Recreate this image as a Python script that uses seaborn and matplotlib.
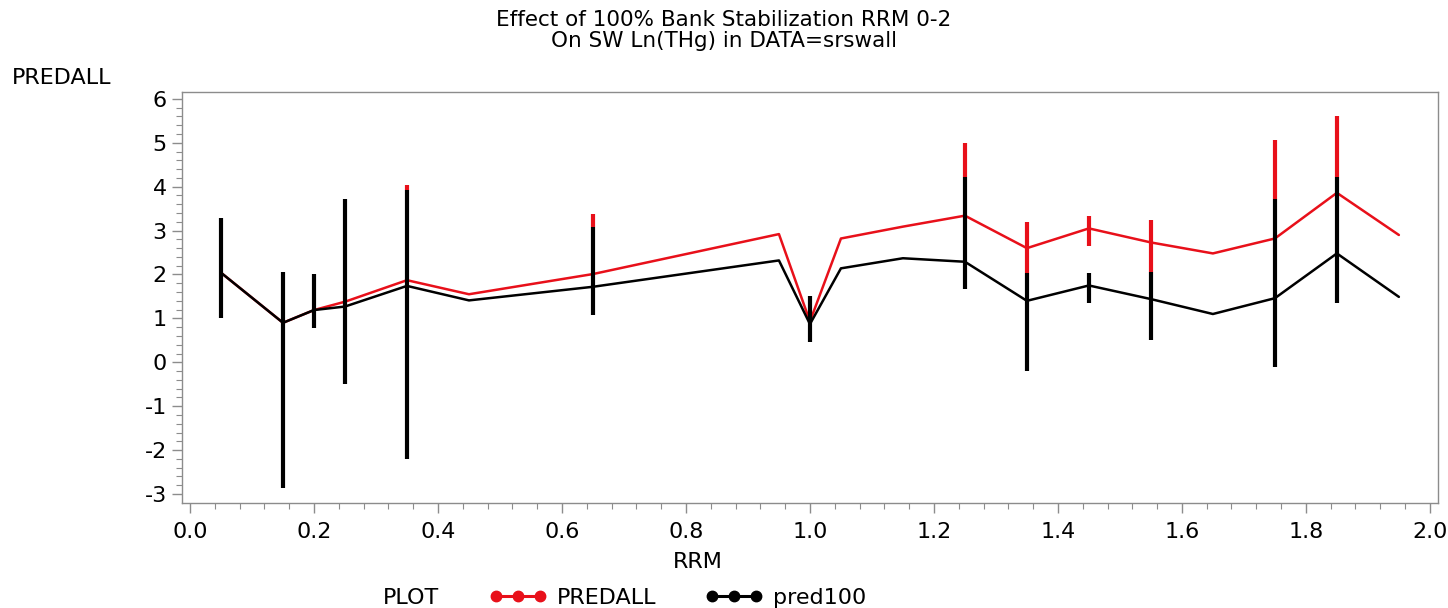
import numpy as np
import pandas as pd
import matplotlib
matplotlib.use("Agg")
import matplotlib.pyplot as plt
from matplotlib.lines import Line2D
from matplotlib.ticker import MultipleLocator, FormatStrFormatter
import seaborn as sns

# ---- data ----
rrm = [0.05, 0.15, 0.2, 0.25, 0.35, 0.45, 0.65, 0.95, 1.0, 1.05, 1.15,
       1.25, 1.35, 1.45, 1.55, 1.65, 1.75, 1.85, 1.95]
predall = [2.04, 0.90, 1.19, 1.38, 1.87, 1.55, 2.01, 2.92, 0.93, 2.82, 3.09,
           3.34, 2.60, 3.05, 2.73, 2.48, 2.82, 3.86, 2.90]
pred100 = [2.04, 0.90, 1.19, 1.27, 1.74, 1.41, 1.72, 2.32, 0.87, 2.14, 2.37,
           2.29, 1.40, 1.75, 1.44, 1.10, 1.46, 2.48, 1.49]

# hi-lo bars
red_bar_x = [0.35, 0.65, 1.25, 1.35, 1.45, 1.55, 1.75, 1.85]
red_bar_lo = [3.92, 3.09, 4.23, 2.03, 2.65, 2.05, 3.73, 4.23]
red_bar_hi = [4.04, 3.37, 4.99, 3.20, 3.33, 3.23, 5.06, 5.61]

blk_bar_x = [0.05, 0.15, 0.2, 0.25, 0.35, 0.65, 1.0, 1.25, 1.35, 1.45, 1.55, 1.75, 1.85]
blk_bar_lo = [1.00, -2.87, 0.77, -0.49, -2.20, 1.08, 0.47, 1.66, -0.19, 1.34, 0.51, -0.11, 1.34]
blk_bar_hi = [3.28, 2.05, 2.00, 3.72, 3.92, 3.09, 1.51, 4.23, 2.03, 2.03, 2.05, 3.73, 4.23]

series_names = ["PREDALL", "pred100"]
series_colors = ["#e8101a", "#000000"]

df = pd.DataFrame({
    "RRM": rrm * 2,
    "value": predall + pred100,
    "PLOT": [series_names[0]] * len(rrm) + [series_names[1]] * len(rrm),
})

sns.set_style("ticks")
plt.rcParams["font.family"] = ["DejaVu Sans"]
plt.rcParams["text.color"] = "black"
plt.rcParams["axes.unicode_minus"] = False

fig = plt.figure(figsize=(14.48, 6.08), dpi=100)
ax = fig.add_axes([0.1257, 0.1732, 0.8673, 0.6755])

# red hi-lo bars first, black on top
ax.vlines(red_bar_x, red_bar_lo, red_bar_hi, colors=series_colors[0], lw=3.0, zorder=2)
sns.lineplot(data=df[df.PLOT == "PREDALL"], x="RRM", y="value", color=series_colors[0],
             lw=1.8, ax=ax, legend=False, zorder=3, estimator=None)
ax.vlines(blk_bar_x, blk_bar_lo, blk_bar_hi, colors=series_colors[1], lw=3.0, zorder=4)
sns.lineplot(data=df[df.PLOT == "pred100"], x="RRM", y="value", color=series_colors[1],
             lw=1.8, ax=ax, legend=False, zorder=5, estimator=None)

ax.set_xlim(-0.0129, 2.0129)
ax.set_ylim(-3.198, 6.157)
ax.xaxis.set_major_locator(MultipleLocator(0.2))
ax.xaxis.set_minor_locator(MultipleLocator(0.04))
ax.yaxis.set_major_locator(MultipleLocator(1))
ax.yaxis.set_minor_locator(MultipleLocator(0.2))
ax.xaxis.set_major_formatter(FormatStrFormatter("%.1f"))

grey = "#8c8c8c"
for s in ax.spines.values():
    s.set_visible(True)
    s.set_color(grey)
    s.set_linewidth(1.0)
ax.tick_params(axis="both", which="major", direction="out", length=7, width=1,
               color=grey, labelsize=16, labelcolor="black")
ax.tick_params(axis="both", which="minor", direction="out", length=4, width=0.8, color=grey)
ax.tick_params(axis="x", which="major", pad=7)
ax.tick_params(axis="y", which="major", pad=4)

ax.set_xlabel("")
ax.set_ylabel("")
fig.text(0.0083, 0.872, "PREDALL", fontsize=16, ha="left", va="center")
fig.text(0.4820, 0.076, "RRM", fontsize=16, ha="center", va="center")
fig.text(0.5, 0.967, "Effect of 100% Bank Stabilization RRM 0-2", fontsize=15.5,
         ha="center", va="center")
fig.text(0.5, 0.932, "On SW Ln(THg) in DATA=srswall", fontsize=15.5,
         ha="center", va="center")

# legend
fig.text(0.2840, 0.016, "PLOT", fontsize=16, ha="center", va="center")
handles = [Line2D([], [], color=c, marker="o", markersize=7.5, lw=2.2) for c in series_colors]
fig.legend(handles, series_names, loc="center left", bbox_to_anchor=(0.324, 0.016),
           ncol=2, frameon=False, numpoints=3, fontsize=16, handlelength=2.6,
           handletextpad=0.45, columnspacing=2.2)

fig.savefig("out.png", dpi=100)
